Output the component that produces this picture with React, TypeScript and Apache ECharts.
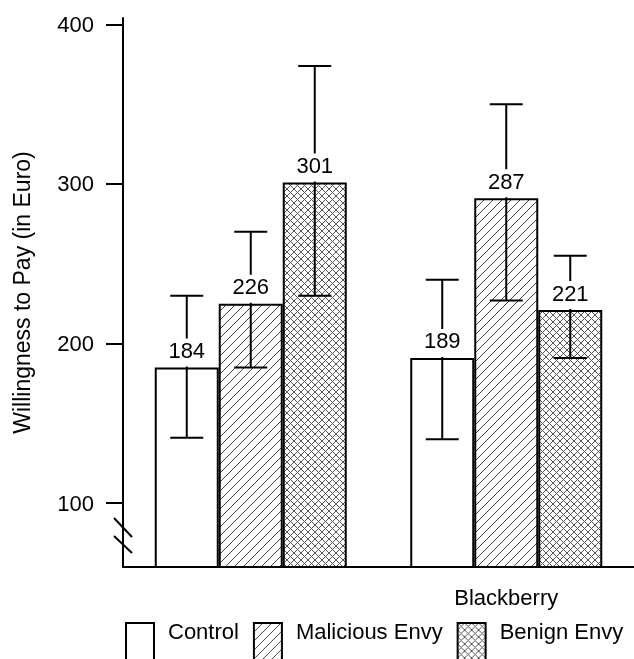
import React, { useEffect, useRef } from "react";
import * as echarts from "echarts";

const categories = ["", "Blackberry"];
const seriesNames = ["Control", "Malicious Envy", "Benign Envy"];
// bar heights as drawn
const controlValues = [185, 191];
const maliciousValues = [225, 291];
const benignValues = [301, 221];
// printed value labels
const controlLabels = ["184", "189"];
const maliciousLabels = ["226", "287"];
const benignLabels = ["301", "221"];
// error bar ends
const controlLow = [141, 140];
const controlHigh = [230, 240];
const maliciousLow = [185, 227];
const maliciousHigh = [270, 350];
const benignLow = [230, 191];
const benignHigh = [374, 255];
const yTicks = [100, 200, 300, 400];

const FONT = "'Liberation Sans', Arial, Helvetica, sans-serif";
const FS = 22;
const BAR_W = 64;

function makePattern(kind: "none" | "diag" | "cross") {
  if (kind === "none") return "#ffffff";
  const s = kind === "diag" ? 9 : 7;
  const c = document.createElement("canvas");
  c.width = s;
  c.height = s;
  const ctx = c.getContext("2d")!;
  ctx.fillStyle = "#ffffff";
  ctx.fillRect(0, 0, s, s);
  ctx.strokeStyle = kind === "diag" ? "#444444" : "#555555";
  ctx.lineWidth = 1;
  const line = (x1: number, y1: number, x2: number, y2: number) => {
    ctx.beginPath();
    ctx.moveTo(x1, y1);
    ctx.lineTo(x2, y2);
    ctx.stroke();
  };
  line(-1, s + 1, s + 1, -1);
  if (kind === "cross") {
    line(-1, -1, s + 1, s + 1);
  }
  return { image: c, repeat: "repeat" } as any;
}

export default function App() {
  const ref = useRef<HTMLDivElement>(null);
  useEffect(() => {
    document.body.style.margin = "0";
    const chart = echarts.init(ref.current!, null, { renderer: "svg" });

    const groups = [
      { name: seriesNames[0], values: controlValues, labels: controlLabels, low: controlLow, high: controlHigh, fill: makePattern("none"), slot: -1 },
      { name: seriesNames[1], values: maliciousValues, labels: maliciousLabels, low: maliciousLow, high: maliciousHigh, fill: makePattern("diag"), slot: 0 },
      { name: seriesNames[2], values: benignValues, labels: benignLabels, low: benignLow, high: benignHigh, fill: makePattern("cross"), slot: 1 },
    ];

    const barSeries = groups.map((g) => ({
      name: g.name,
      type: "bar",
      data: g.values,
      barWidth: BAR_W,
      barGap: "0%",
      z: 2,
      itemStyle: { color: g.fill, borderColor: "#000", borderWidth: 2 },
    }));

    const errSeries = groups.map((g) => ({
      type: "custom",
      name: g.name + " error",
      z: 5,
      silent: true,
      data: g.values.map((v, i) => [i, v, g.low[i], g.high[i], i]),
      renderItem: (params: any, api: any) => {
        const idx = api.value(4);
        const top = api.coord([api.value(0), api.value(1)]);
        const lo = api.coord([api.value(0), api.value(2)]);
        const hi = api.coord([api.value(0), api.value(3)]);
        const x = top[0] + g.slot * BAR_W;
        const cap = 16.5;
        const ls = { stroke: "#000", lineWidth: 2 };
        return {
          type: "group",
          children: [
            { type: "line", shape: { x1: x, y1: lo[1], x2: x, y2: hi[1] }, style: ls },
            { type: "line", shape: { x1: x - cap, y1: lo[1], x2: x + cap, y2: lo[1] }, style: ls },
            { type: "line", shape: { x1: x - cap, y1: hi[1], x2: x + cap, y2: hi[1] }, style: ls },
            {
              type: "text",
              z2: 10,
              x: x,
              y: top[1] - 1,
              style: {
                text: g.labels[idx],
                fill: "#000",
                font: `${FS}px ${FONT}`,
                align: "center",
                verticalAlign: "bottom",
                backgroundColor: "#fff",
                padding: [1, 2, 5, 2],
              },
            },
          ],
        };
      },
    }));

    chart.setOption({
      animation: false,
      textStyle: { fontFamily: FONT },
      grid: { left: 123, right: 0, top: 18, bottom: 92, containLabel: false },
      legend: {
        data: seriesNames,
        left: 125,
        top: 619,
        padding: 0,
        icon: "rect",
        itemWidth: 28,
        itemHeight: 40,
        itemGap: 14,
        selectedMode: false,
        formatter: (name: string) => name + "\n ",
        textStyle: { fontSize: FS, lineHeight: 24, color: "#000", fontFamily: FONT, padding: [0, 0, 0, 9] },
      },
      xAxis: {
        type: "category",
        data: categories,
        axisLine: { lineStyle: { color: "#000", width: 2 } },
        axisTick: { show: false },
        axisLabel: { color: "#000", fontSize: FS, margin: 19, fontFamily: FONT },
      },
      yAxis: {
        type: "value",
        min: 60,
        max: 404,
        name: "Willingness to Pay (in Euro)",
        nameLocation: "middle",
        nameGap: 90,
        nameTextStyle: { color: "#000", fontSize: 23, fontFamily: FONT },
        axisLine: { show: true, lineStyle: { color: "#000", width: 2 } },
        axisTick: { show: true, length: 17, lineStyle: { color: "#000", width: 2 }, customValues: yTicks },
        axisLabel: { color: "#000", fontSize: FS, margin: 29, fontFamily: FONT, customValues: yTicks },
        splitLine: { show: false },
      },
      graphic: [
        { type: "line", shape: { x1: 114, y1: 518, x2: 132, y2: 537 }, style: { stroke: "#000", lineWidth: 2 }, z: 10 },
        { type: "line", shape: { x1: 114, y1: 536, x2: 132, y2: 553 }, style: { stroke: "#000", lineWidth: 2 }, z: 10 },
      ],
      series: [...barSeries, ...errSeries],
    });
    return () => chart.dispose();
  }, []);
  return <div ref={ref} style={{ width: 634, height: 659, position: "fixed", left: 0, top: 0 }} />;
}
